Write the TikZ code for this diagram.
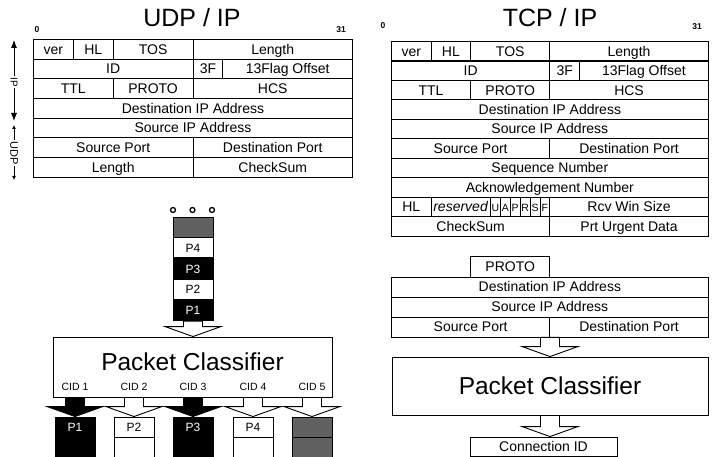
\documentclass[tikz,border=0pt]{standalone}
\usepackage{fontspec}
\setmainfont{Liberation Sans}
\usetikzlibrary{arrows.meta,positioning,calc}
\newcommand{\fsz}[1]{\fontsize{#1}{#1}\selectfont}
% hollow block arrow: [fill]{start of stem}{tip}
\newcommand{\fatarrow}[3][white]{%
  \draw[fat,fill=#1] ($(#2)+(-9.5,0)$) -- ($(#3)+(-9.5,-10)$) -- ($(#3)+(-28,-10)$) -- (#3)
    -- ($(#3)+(28,-10)$) -- ($(#3)+(9.5,-10)$) -- ($(#2)+(9.5,0)$) -- cycle;}
\tikzset{
  >=Latex,
  fld/.style={draw,line width=.9pt,inner sep=0pt,minimum height=19.6pt,anchor=north west,
    text height=10.8pt,text depth=1pt,font=\fsz{14}},
  hdr/.style={font=\fsz{25}},
  bitno/.style={font=\fsz{8.5}\bfseries},
  clsbox/.style={draw,line width=.9pt,font=\fsz{24.5}},
  pkt/.style={draw,line width=.9pt,fill=white,minimum width=40pt,minimum height=20pt,inner sep=0pt,
    text height=8.5pt,text depth=0pt,font=\fsz{12}},
  dark/.style={pkt,fill=black,text=white},
  grey/.style={pkt,fill=black!62},
  cid/.style={font=\fsz{10.5}},
  fat/.style={line width=.9pt,line join=miter},
  ring/.style={circle,draw,line width=1.3pt,fill=white,minimum size=5pt,inner sep=0pt},
  sidelab/.style={rotate=-90,inner sep=1.5pt},
  sidearr/.style={->,line width=.8pt}
}
\begin{document}
\begin{tikzpicture}[x=1pt,y=-1pt]
  \useasboundingbox (0,0) rectangle (723,457);

  % ---- UDP / IP header
  \node[hdr] (udpT) at (192,18) {UDP / IP};
  \node[bitno] (l0) at (37,30) {0};
  \node[bitno] (l31) at (341,30) {31};
  \begin{scope}[shift={(33,39)}]
    \foreach \nm/\b/\w/\r/\t in {ver/0/4/0/ver, hl/4/4/0/HL, tos/8/8/0/TOS, len/16/16/0/Length,
        id/0/16/1/ID, tf/16/3/1/3F, off/19/13/1/13Flag Offset,
        ttl/0/8/2/TTL, proto/8/8/2/PROTO, hcs/16/16/2/HCS,
        dst/0/32/3/Destination IP Address, src/0/32/4/Source IP Address,
        sp/0/16/5/Source Port, dp/16/16/5/Destination Port,
        ulen/0/16/6/Length, cs/16/16/6/CheckSum}
      \node[fld,minimum width=\w*9.97pt] (L\nm) at (\b*9.97,\r*19.7) {\t};
  \end{scope}

  % IP / UDP extents
  \coordinate (ipT) at (14,40); \coordinate (ipB) at (14,121);
  \coordinate (udT) at (14,125); \coordinate (udB) at (14,180);
  \node[sidelab,font=\fsz{10}] (ipL) at (14,82) {IP};
  \node[sidelab,font=\fsz{11}] (udL) at (14,153) {UDP};
  \draw[sidearr,-{Latex[length=8pt,width=6pt]}] (ipL) -- (ipT);
  \draw[sidearr,-{Latex[length=8pt,width=6pt]}] (ipL) -- (ipB);
  \draw[sidearr,-{Latex[length=4pt,width=4pt]}] (udL) -- (udT);
  \draw[sidearr,-{Latex[length=4pt,width=4pt]}] (udL) -- (udB);

  % ---- TCP / IP header
  \node[hdr] (tcpT) at (550,18) {TCP / IP};
  \node[bitno] (r0) at (383,26) {0};
  \node[bitno] (r31) at (697,27) {31};
  \begin{scope}[shift={(391,41)}]
    \foreach \nm/\b/\w/\r/\t in {ver/0/4/0/ver, hl/4/4/0/HL, tos/8/8/0/TOS, len/16/16/0/Length,
        id/0/16/1/ID, tf/16/3/1/3F, off/19/13/1/13Flag Offset,
        ttl/0/8/2/TTL, proto/8/8/2/PROTO, hcs/16/16/2/HCS,
        dst/0/32/3/Destination IP Address, src/0/32/4/Source IP Address,
        sp/0/16/5/Source Port, dp/16/16/5/Destination Port,
        seq/0/32/6/Sequence Number, ack/0/32/7/Acknowledgement Number,
        thl/0/4/8/HL, res/4/6/8/\textit{reserved}, rcv/16/16/8/Rcv Win Size,
        cs/0/16/9/CheckSum, urg/16/16/9/Prt Urgent Data}
      \node[fld,minimum width=\w*9.9pt] (R\nm) at (\b*9.9,\r*19.45) {\t};
    \foreach \f [count=\i from 10] in {U,A,P,R,S,F}
      \node[fld,minimum width=9.9pt,font=\fsz{10.5}] (Rf\f) at (\i*9.9,8*19.45) {\f};
  \end{scope}

  % ---- classification key (TCP)
  \begin{scope}[shift={(391,256.5)}]
    \foreach \nm/\b/\w/\r/\t in {proto/8/8/0/PROTO, dst/0/32/1/Destination IP Address,
        src/0/32/2/Source IP Address, sp/0/16/3/Source Port, dp/16/16/3/Destination Port}
      \node[fld,minimum height=20pt,minimum width=\w*9.9pt] (K\nm) at (\b*9.9,\r*20) {\t};
  \end{scope}
  \node[clsbox,minimum width=316pt,minimum height=58pt] (clsR) at (550,386) {Packet Classifier};
  \node[draw,line width=.9pt,minimum width=147pt,minimum height=19pt,font=\fsz{14}] (conn) at (543.5,446.5) {Connection ID};
  \fatarrow{clsR.north |- Ksp.south}{clsR.north}
  \fatarrow{clsR.south}{clsR.south |- conn.north}

  % ---- packet stream (UDP)
  \foreach \x [count=\i] in {173,192.5,212}
    \node[ring] (d\i) at (\x,210) {};
  \node[grey] (s0) at (193,227) {};
  \node[pkt,below=0pt of s0] (s4) {P4};
  \node[dark,below=0pt of s4] (s3) {P3};
  \node[pkt,below=0pt of s3] (s2) {P2};
  \node[dark,below=0pt of s2] (s1) {P1};

  \node[clsbox,minimum width=279pt,minimum height=60pt,text depth=10pt] (clsL) at (192.5,367) {Packet Classifier};
  \fatarrow{s1.south}{s1.south |- clsL.north}

  \foreach \i/\x in {1/75,2/134,3/193,4/253,5/312}
    \node[cid] (cid\i) at (\x,387) {CID \i};

  % sorted packets
  \node[dark] (pk1) at (75,427) {P1};   \node[dark,below=0pt of pk1] (pk1b) {};
  \node[pkt]  (pk2) at (134,427) {P2};  \node[pkt,below=0pt of pk2] (pk2b) {};
  \node[dark] (pk3) at (193,427) {P3};  \node[dark,below=0pt of pk3] (pk3b) {};
  \node[pkt]  (pk4) at (253,427) {P4};  \node[pkt,below=0pt of pk4] (pk4b) {};
  \node[grey] (pk5) at (312,427) {};    \node[grey,below=0pt of pk5] (pk5b) {};
  \foreach \i/\c in {1/black,2/white,3/black,4/white,5/white}
    {\fatarrow[\c]{cid\i |- clsL.south}{pk\i.north}}
\end{tikzpicture}
\end{document}
